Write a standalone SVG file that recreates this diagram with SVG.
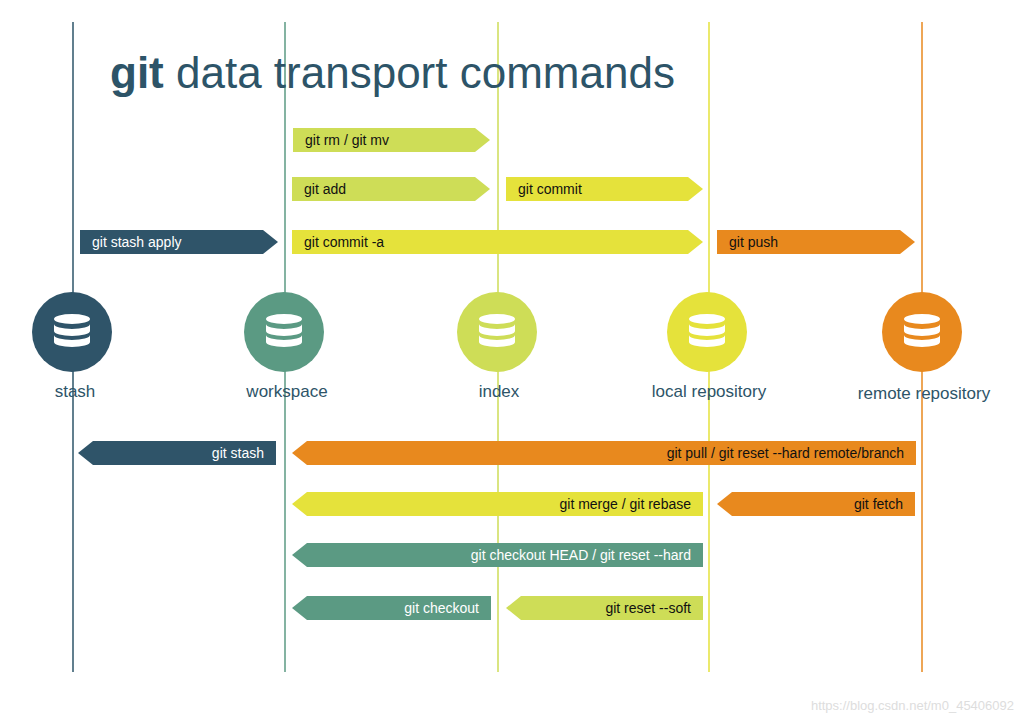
<svg xmlns="http://www.w3.org/2000/svg" width="1024" height="723" viewBox="0 0 1024 723">
<style>
text{font-family:"Helvetica Neue","Liberation Sans",Arial,sans-serif}
.a{font-size:14px;fill:#111}
.w{font-size:14px;fill:#fff}
.lb{font-size:17px;fill:#2d5468;text-anchor:middle}
.db{fill:#fff}
</style>
<defs>
<g id="db">
<ellipse cx="0" cy="-13" rx="18" ry="5" class="db"/>
<path d="M-18,-8 a18,5 0 0 0 36,0 v7 a18,5 0 0 1 -36,0z" class="db"/>
<path d="M-18,3 a18,5 0 0 0 36,0 v7 a18,5 0 0 1 -36,0z" class="db"/>
</g>
</defs>
<rect width="1024" height="723" fill="#fff"/>
<g id="lanes" stroke-width="1.5">
<line x1="73" y1="22" x2="73" y2="672" stroke="#2d5468"/>
<line x1="285" y1="22" x2="285" y2="672" stroke="#5b9a83"/>
<line x1="498" y1="22" x2="498" y2="672" stroke="#cedd57"/>
<line x1="709" y1="22" x2="709" y2="672" stroke="#e5e23b"/>
<line x1="922" y1="22" x2="922" y2="672" stroke="#e8891e"/>
</g>
<text x="110" y="88" font-size="44" fill="#2d5468"><tspan font-weight="bold">git</tspan><tspan font-weight="300"> data transport commands</tspan></text>
<g id="stash"><circle cx="72" cy="332" r="40" fill="#2f5469"/><use href="#db" x="72" y="332"/><text x="75" y="397" class="lb">stash</text></g>
<g id="workspace"><circle cx="284" cy="332" r="40" fill="#5b9a83"/><use href="#db" x="284" y="332"/><text x="287" y="397" class="lb">workspace</text></g>
<g id="index"><circle cx="497" cy="332" r="40" fill="#cedd57"/><use href="#db" x="497" y="332"/><text x="499" y="397" class="lb">index</text></g>
<g id="local"><circle cx="707" cy="332" r="40" fill="#e5e23b"/><use href="#db" x="707" y="332"/><text x="709" y="397" class="lb">local repository</text></g>
<g id="remote"><circle cx="922" cy="332" r="40" fill="#e8891e"/><use href="#db" x="922" y="332"/><text x="924" y="399" class="lb">remote repository</text></g>
<g id="connectors">
<path d="M293,128 H475 L490,140 L475,152 H293Z" fill="#cedd57"/><text x="305" y="145" class="a">git rm / git mv</text>
<path d="M292,177 H475 L490,189 L475,201 H292Z" fill="#cedd57"/><text x="304" y="194" class="a">git add</text>
<path d="M506,177 H688 L703,189 L688,201 H506Z" fill="#e5e23b"/><text x="518" y="194" class="a">git commit</text>
<path d="M80,230 H263 L278,242 L263,254 H80Z" fill="#2f5469"/><text x="92" y="247" class="w">git stash apply</text>
<path d="M292,230 H688 L703,242 L688,254 H292Z" fill="#e5e23b"/><text x="304" y="247" class="a">git commit -a</text>
<path d="M717,230 H900 L915,242 L900,254 H717Z" fill="#e8891e"/><text x="729" y="247" class="a">git push</text>
<path d="M276,441 H93 L78,453 L93,465 H276Z" fill="#2f5469"/><text x="264" y="458" class="w" text-anchor="end">git stash</text>
<path d="M916,441 H307 L292,453 L307,465 H916Z" fill="#e8891e"/><text x="904" y="458" class="a" text-anchor="end">git pull / git reset --hard remote/branch</text>
<path d="M703,492 H307 L292,504 L307,516 H703Z" fill="#e5e23b"/><text x="691" y="509" class="a" text-anchor="end">git merge / git rebase</text>
<path d="M915,492 H732 L717,504 L732,516 H915Z" fill="#e8891e"/><text x="903" y="509" class="a" text-anchor="end">git fetch</text>
<path d="M703,543 H307 L292,555 L307,567 H703Z" fill="#5b9a83"/><text x="691" y="560" class="w" text-anchor="end">git checkout HEAD / git reset --hard</text>
<path d="M491,596 H307 L292,608 L307,620 H491Z" fill="#5b9a83"/><text x="479" y="613" class="w" text-anchor="end">git checkout</text>
<path d="M703,596 H521 L506,608 L521,620 H703Z" fill="#cedd57"/><text x="691" y="613" class="a" text-anchor="end">git reset --soft</text>
</g>
<text x="1014" y="710" font-size="13" fill="#ddd" text-anchor="end">https://blog.csdn.net/m0_45406092</text>
</svg>
